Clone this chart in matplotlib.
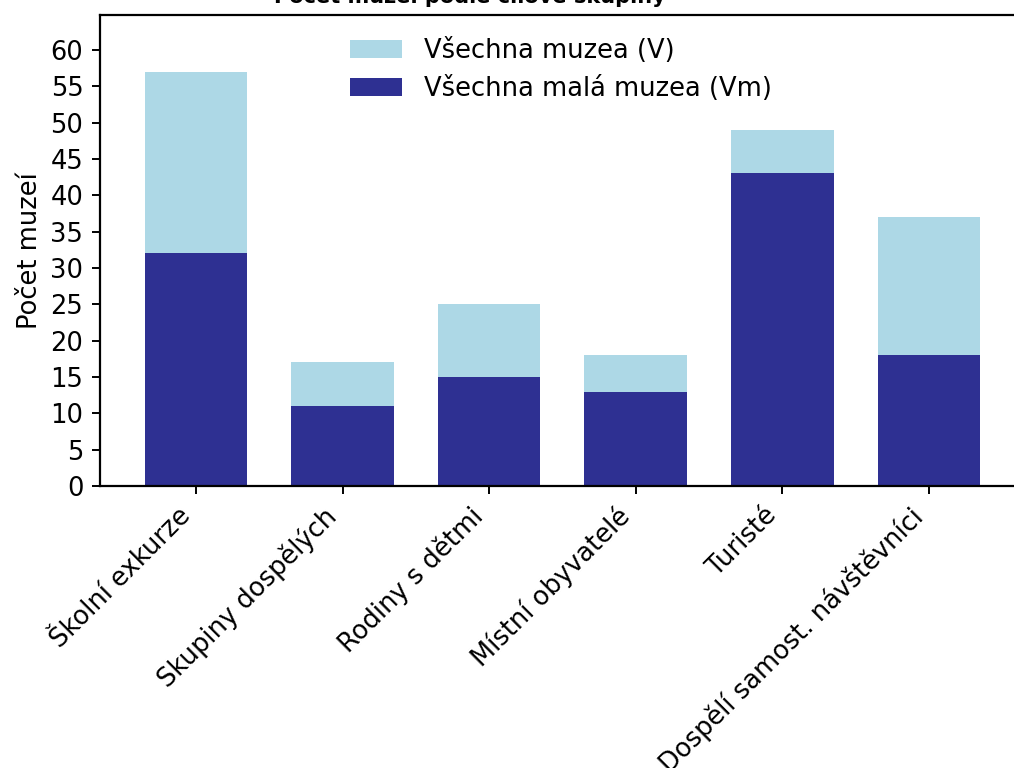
"""Počet muzeí podle cílové skupiny: všechna muzea vs. malá muzea."""

import matplotlib

matplotlib.use("Agg")
import matplotlib.pyplot as plt


SKUPINY = [
    "Školní exkurze",
    "Skupiny dospělých",
    "Rodiny s dětmi",
    "Místní obyvatelé",
    "Turisté",
    "Dospělí samost. návštěvníci",
]
VSECHNA = [57, 17, 25, 18, 49, 37]
MALA = [32, 11, 15, 13, 43, 18]
Y_TICKS = list(range(0, 61, 5))

SVETLA = "#add8e6"
TMAVA = "#2e3092"
FS = 18.5


def main():
    plt.rcParams["font.family"] = "DejaVu Sans"
    fig = plt.figure(figsize=(10.14, 7.68), dpi=100)
    # osy jsou oříznuté vpravo i nahoře stejně jako v předloze
    ax = fig.add_axes([100 / 1014, 282 / 768, 922 / 1014, 471 / 768])

    x = range(len(SKUPINY))
    ax.bar(x, VSECHNA, width=0.7, color=SVETLA, label="Všechna muzea (V)")
    ax.bar(x, MALA, width=0.7, color=TMAVA, label="Všechna malá muzea (Vm)")

    ax.set_xlim(-0.655, 5.635)
    ax.set_ylim(0, 64.8)
    ax.set_yticks(Y_TICKS)
    ax.set_xticks(list(x))
    ax.set_xticklabels(SKUPINY, rotation=45, ha="right")
    ax.tick_params(axis="both", labelsize=FS, length=5.5, width=1.4, pad=6.5)
    ax.set_ylabel("Počet muzeí", fontsize=FS, labelpad=5)
    for spine in ax.spines.values():
        spine.set_linewidth(1.6)

    ax.legend(
        loc="upper center",
        bbox_to_anchor=(0.5, 1.0),
        frameon=False,
        fontsize=FS,
        handlelength=2.0,
        handleheight=0.7,
        handletextpad=0.85,
        labelspacing=0.45,
    )

    # titul je v předloze téměř celý mimo obrázek
    fig.text(
        470 / 1014,
        (768 - 3) / 768,
        "Počet muzeí podle cílové skupiny",
        ha="center",
        va="baseline",
        fontsize=15,
        fontweight="bold",
    )

    fig.savefig("out.png", dpi=100, facecolor="white")
    plt.close(fig)


if __name__ == "__main__":
    main()
